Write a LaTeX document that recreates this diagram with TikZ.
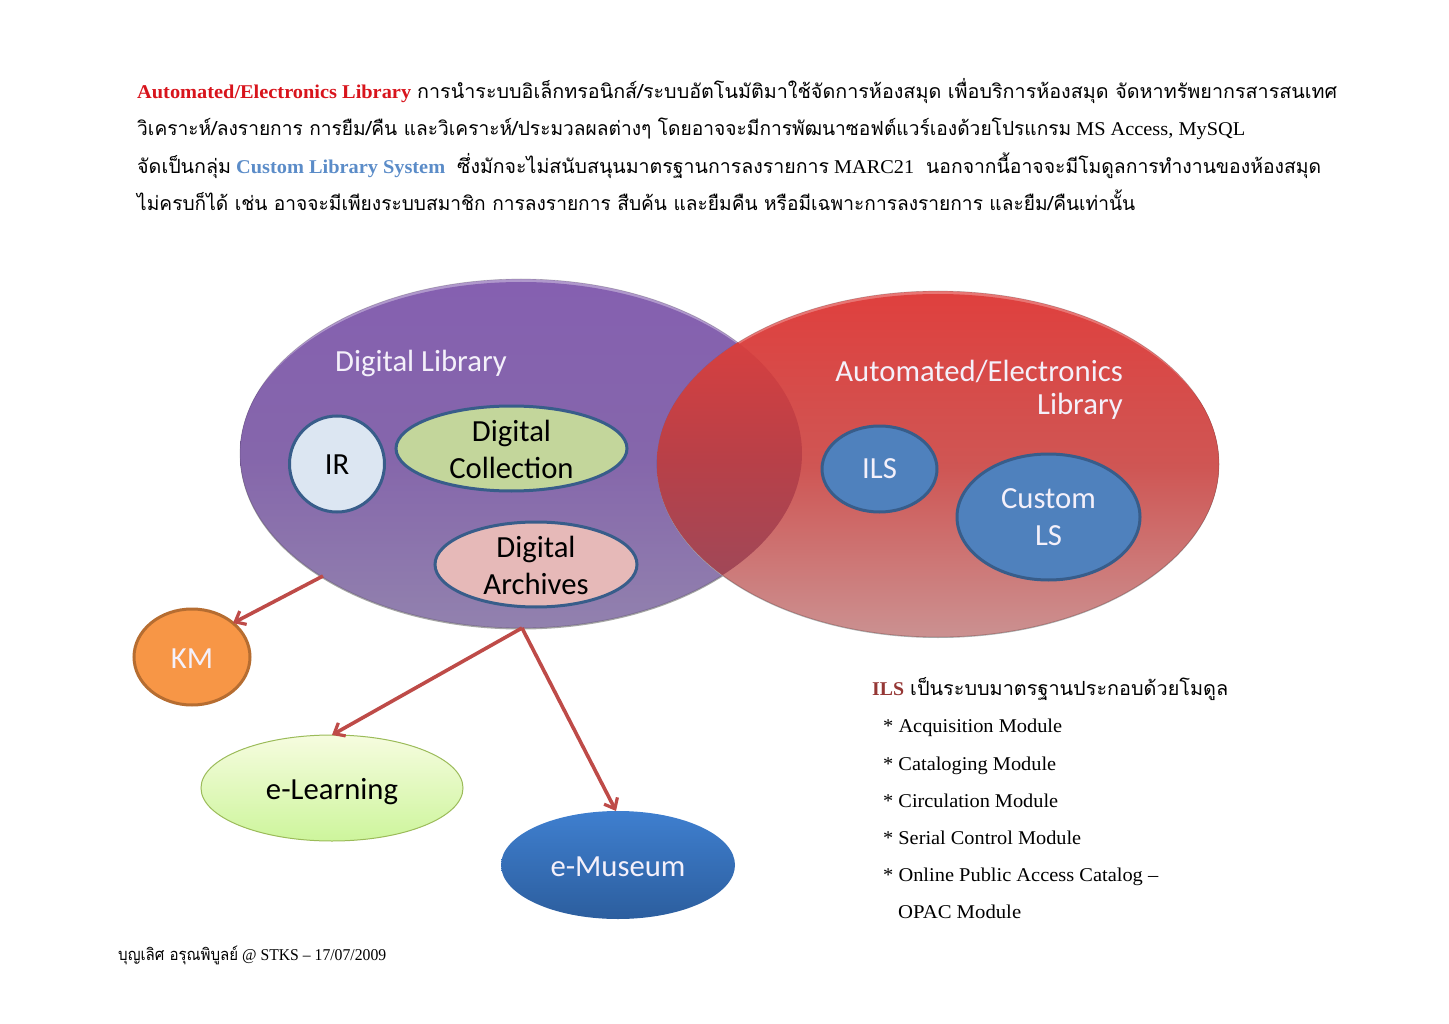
\documentclass[tikz,border=0pt]{standalone}
\usepackage{fontspec}
\usepackage{graphicx}
\setmainfont{Liberation Serif}
\newfontfamily\thaifont[Script=Thai]{Loma}
\newfontfamily\cali{Carlito}
\usetikzlibrary{shapes.geometric,arrows.meta}
\definecolor{arrowred}{HTML}{BE4B48}
\definecolor{ringblue}{HTML}{385D8A}
\definecolor{purA}{HTML}{8560B0}
\definecolor{purB}{HTML}{8566AB}
\definecolor{purC}{HTML}{9282AE}
\definecolor{redA}{HTML}{DF403E}
\definecolor{redB}{HTML}{CF5654}
\definecolor{redC}{HTML}{CB9292}
\definecolor{ovA}{HTML}{D64040}
\definecolor{ovB}{HTML}{B84048}
\definecolor{ovC}{HTML}{A04858}
\definecolor{kmfill}{HTML}{F79646}
\definecolor{kmline}{HTML}{B66D31}
\definecolor{irfill}{HTML}{DCE6F2}
\definecolor{dcfill}{HTML}{C3D69B}
\definecolor{dafill}{HTML}{E6B9B8}
\definecolor{ilsfill}{HTML}{4F81BD}
\definecolor{elA}{HTML}{F6FCDF}
\definecolor{elB}{HTML}{CDF59C}
\definecolor{elline}{HTML}{9BBB59}
\definecolor{emA}{HTML}{3F7FCF}
\definecolor{emB}{HTML}{2C5E9E}
\definecolor{labwhite}{HTML}{F4F0FA}
\definecolor{ilsred}{HTML}{953735}
\newcommand{\hfit}[2]{\resizebox{#1pt}{\height}{#2}}
\newcommand{\thi}[1]{{\thaifont #1}}
\newcommand{\lablower}[2]{\raisebox{-#1pt}[\height][\depth]{#2}}
\tikzset{
  oval/.style={ellipse,inner sep=0pt,outer sep=0pt},
  inner oval/.style={oval,draw=ringblue,line width=3pt,font=\cali\fontsize{30.7}{37}\selectfont,align=center,text=black},
  lower oval/.style={oval,font=\cali\fontsize{30.7}{37}\selectfont},
  lab/.style={font=\cali\fontsize{30.7}{37}\selectfont,inner sep=0pt,text=labwhite},
  body/.style={anchor=base west,inner sep=0pt,font=\fontsize{19.5}{22}\selectfont},
  foot/.style={anchor=base west,inner sep=0pt,font=\fontsize{16.5}{20}\selectfont},
  conn/.style={draw=arrowred,line width=3.6pt,-{Straight Barb[length=9pt,width=15pt,line width=3.2pt]}},
  rim/.style={draw=black,draw opacity=0.18,line width=0.7pt}
}
\begin{document}
\begin{tikzpicture}[x=1pt,y=-1pt]
\useasboundingbox (0,0) rectangle (1449,1024);
% header
\node[body] (h1a) at (137,99) {\textcolor[HTML]{D8141C}{\hfit{274}{\textbf{Automated/Electronics Library}}}};
\node[body] (h1b) at (417,99) {\hfit{920}{\thi{การนำระบบอิเล็กทรอนิกส์/ระบบอัตโนมัติมาใช้จัดการห้องสมุด เพื่อบริการห้องสมุด จัดหาทรัพยากรสารสนเทศ}}};
\node[body] (h2a) at (137,136) {\hfit{934}{\thi{วิเคราะห์/ลงรายการ การยืม/คืน และวิเคราะห์/ประมวลผลต่างๆ โดยอาจจะมีการพัฒนาซอฟต์แวร์เองด้วยโปรแกรม}}};
\node[body] (h2b) at (1076,136) {\hfit{169}{MS Access, MySQL}};
\node[body] (h3a) at (137,174) {\hfit{94}{\thi{จัดเป็นกลุ่ม}}};
\node[body] (h3b) at (236,174) {\textcolor[HTML]{5B8CC8}{\hfit{209}{\textbf{Custom Library System}}}};
\node[body] (h3c) at (457,174) {\hfit{372}{\thi{ซึ่งมักจะไม่สนับสนุนมาตรฐานการลงรายการ}}};
\node[body] (h3d) at (834,174) {\hfit{80}{MARC21}};
\node[body] (h3e) at (926,174) {\hfit{395}{\thi{นอกจากนี้อาจจะมีโมดูลการทำงานของห้องสมุด}}};
\node[body] (h4a) at (137,211) {\hfit{998}{\thi{ไม่ครบก็ได้ เช่น อาจจะมีเพียงระบบสมาชิก การลงรายการ สืบค้น และยืมคืน หรือมีเฉพาะการลงรายการ และยืม/คืนเท่านั้น}}};
% big ellipses
\fill[black!35] (521,455) ellipse [x radius=281,y radius=174.5];
\fill[purA!65!white] (521,453.5) ellipse [x radius=281,y radius=174.5];
\begin{scope}
\clip (521,453.5) ellipse [x radius=281,y radius=174.5];
\node[oval,minimum width=566pt,minimum height=349pt,top color=purA,bottom color=purC,middle color=purB] (dl) at (521,456.5) {};
\end{scope}
\path[rim] (521,453.5) ellipse [x radius=281,y radius=174.5];
\fill[black!30] (938,465) ellipse [x radius=281,y radius=173];
\fill[redA!72!white] (938,464) ellipse [x radius=281,y radius=173];
\begin{scope}
\clip (938,464) ellipse [x radius=281,y radius=173];
\node[oval,minimum width=566pt,minimum height=346pt,top color=redA,bottom color=redC,middle color=redB] (ae) at (938,467) {};
\end{scope}
\path[rim] (938,464) ellipse [x radius=281,y radius=173];
\begin{scope}
\clip (521,453.5) ellipse [x radius=281,y radius=174.5];
\clip (938,464) ellipse [x radius=281,y radius=173];
\shade[top color=ovA,bottom color=ovC,middle color=ovB] (657,342) rectangle (802,578);
\end{scope}
% big labels
\node[lab,anchor=west] (dllab) at (335,363) {Digital Library};
\node[lab,anchor=east] (aelab1) at (1123,371) {Automated/Electronics};
\node[lab,anchor=east] (aelab2) at (1123,406) {Library};
% inner ovals
\node[inner oval,minimum width=95pt,minimum height=96pt,fill=irfill] (ir) at (337,464) {\lablower{0.5}{IR}};
\node[inner oval,minimum width=231pt,minimum height=85pt,fill=dcfill] (dc) at (511.5,448.5) {\lablower{0.7}{Digital}\\\lablower{0.7}{Collection}};
\node[inner oval,minimum width=202pt,minimum height=85pt,fill=dafill] (da) at (536,564.5) {\lablower{0.7}{Digital}\\\lablower{1}{Archives}};
\node[inner oval,minimum width=115pt,minimum height=86pt,fill=ilsfill,text=labwhite] (ils) at (879.5,469) {ILS};
\node[inner oval,minimum width=183pt,minimum height=126pt,fill=ilsfill,text=labwhite] (cls) at (1048.5,517) {\lablower{0.5}{Custom}\\\lablower{0.5}{LS}};
% lower ovals
\node[lower oval,minimum width=116pt,minimum height=96pt,fill=kmfill,draw=kmline,line width=3pt,text=labwhite] (km) at (192,657) {\lablower{1.5}{KM}};
\node[lower oval,minimum width=262pt,minimum height=106pt,top color=elA,bottom color=elB,draw=elline,line width=1pt,text=black] (el) at (332,788) {\lablower{3.5}{e-Learning}};
\node[lower oval,minimum width=234pt,minimum height=108pt,top color=emA,bottom color=emB,text=labwhite] (em) at (618,865) {\lablower{1.5}{e-Museum}};
% connectors
\coordinate (kmstart) at (323,576);
\coordinate (hub) at (522,628);
\draw[conn] (kmstart) -- (km.north east);
\draw[conn] (hub) -- (el.north);
\draw[conn] (hub) -- ([xshift=-2pt]em.north);
% ILS list
\node[body] (ils1) at (872,695) {\textcolor{ilsred}{\hfit{32}{\textbf{ILS}}}};
\node[body] (ils2) at (910,695) {\hfit{318}{\thi{เป็นระบบมาตรฐานประกอบด้วยโมดูล}}};
\node[body] (m1) at (883,732) {\hfit{179}{* Acquisition Module}};
\node[body] (m2) at (883,770) {\hfit{173}{* Cataloging Module}};
\node[body] (m3) at (883,807) {\hfit{175}{* Circulation Module}};
\node[body] (m4) at (883,844) {\hfit{198}{* Serial Control Module}};
\node[body] (m5) at (883,881) {\hfit{275}{* Online Public Access Catalog –}};
\node[body] (m6) at (898,918) {\hfit{123}{OPAC Module}};
% footer
\node[foot] (f1) at (118,960) {\hfit{120}{\thi{บุญเลิศ อรุณพิบูลย์}}};
\node[foot] (f2) at (242,960) {\hfit{144}{@ STKS – 17/07/2009}};
\end{tikzpicture}
\end{document}
